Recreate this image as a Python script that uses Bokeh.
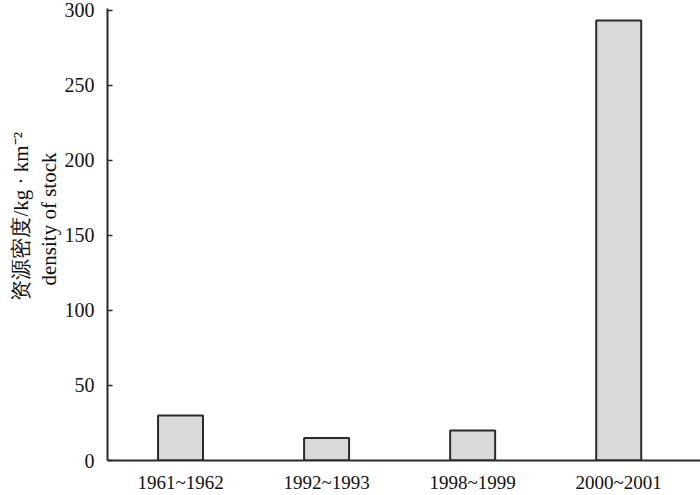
from bokeh.plotting import figure
from bokeh.models import ColumnDataSource, FixedTicker, Title, Range1d
from bokeh.embed import file_html
from bokeh.resources import INLINE

periods = ["1961~1962", "1992~1993", "1998~1999", "2000~2001"]
density = [30, 15, 20, 293]
y_ticks = [0, 50, 100, 150, 200, 250, 300]

xpos = [i + 0.5 for i in range(len(periods))]
src = ColumnDataSource(dict(x=xpos, top=density, label=periods))

p = figure(width=700, height=495, output_backend="svg", toolbar_location=None,
           x_range=Range1d(0, 4.06), y_range=Range1d(0, 301),
           min_border_left=107, min_border_right=0, min_border_top=8, min_border_bottom=30)
p.outline_line_color = None
p.xgrid.grid_line_color = None
p.ygrid.grid_line_color = None
p.background_fill_color = "white"

p.vbar(x="x", top="top", bottom=0, width=0.308, source=src,
       fill_color="#d9d9d9", line_color="#2b2b2b", line_width=2)

font = "Liberation Serif"
p.yaxis.ticker = FixedTicker(ticks=y_ticks)
p.yaxis.major_tick_in = 5
p.yaxis.major_tick_out = 0
p.yaxis.minor_tick_line_color = None
p.yaxis.axis_line_width = 2
p.yaxis.axis_line_color = "#2b2b2b"
p.yaxis.major_tick_line_color = "#2b2b2b"
p.yaxis.major_tick_line_width = 1.5
p.yaxis.major_label_text_font = font
p.yaxis.major_label_text_font_size = "20px"
p.yaxis.major_label_text_color = "#111111"
p.yaxis.major_label_standoff = 13

p.xaxis.ticker = FixedTicker(ticks=xpos)
p.xaxis.major_label_overrides = {x: l for x, l in zip(xpos, periods)}
p.xaxis.major_tick_line_color = None
p.xaxis.minor_tick_line_color = None
p.xaxis.axis_line_width = 2
p.xaxis.axis_line_color = "#2b2b2b"
p.xaxis.major_label_text_font = font
p.xaxis.major_label_text_font_size = "19px"
p.xaxis.major_label_text_color = "#111111"
p.xaxis.major_label_standoff = 5

t1 = Title(text="density of stock", align="left", offset=175, text_font=font,
           text_font_size="21px", text_font_style="normal", text_color="#111111",
           standoff=2)
t2 = Title(text="资源密度/kg · km⁻²", align="left", offset=160, text_font=font,
           text_font_size="21px", text_font_style="normal", text_color="#111111",
           standoff=2)
p.add_layout(t1, "left")
p.add_layout(t2, "left")

open("out.html", "w").write(file_html(p, INLINE))
